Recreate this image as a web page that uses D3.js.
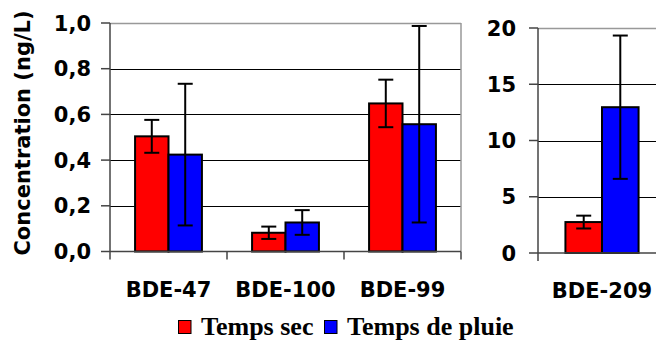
<!DOCTYPE html>
<html>
<head>
<meta charset="utf-8">
<script src="https://cdn.jsdelivr.net/npm/d3@7"></script>
<style>
body{margin:0;background:#fff;}
.lab{font-family:"DejaVu Sans",Verdana,sans-serif;font-weight:bold;}
.leg{font-family:"Liberation Serif","Times New Roman",serif;font-weight:bold;}
</style>
</head>
<body>
<div id="viz_bde" style="width:656px;height:342px;"></div>
<script>
// data
var categories=["BDE-47","BDE-100","BDE-99"];
var sec_vals=[0.504,0.082,0.648];
var sec_err=[0.072,0.027,0.104];
var pluie_vals=[0.424,0.127,0.557];
var pluie_err=[0.31,0.054,0.43];
var left_ticks=[0,0.2,0.4,0.6,0.8,1.0];

var categories2=["BDE-209"];
var sec_vals2=[2.75];
var sec_err2=[0.57];
var pluie_vals2=[12.96];
var pluie_err2=[6.37];
var right_ticks=[0,5,10,15,20];

var series=["Temps sec","Temps de pluie"];
var colors=["#ff0000","#0000ff"];

var width=656,height=342;
var svg=d3.select("#viz_bde").append("svg")
  .attr("width",width)
  .attr("height",height)
  .attr("viewBox","0 0 "+width+" "+height);

var colorScale=d3.scaleOrdinal().domain(series).range(colors);
var fmt=function(d,dec){return d3.format("."+dec+"f")(d).replace(".",",");};

function drawPanel(opt){
  var x0=d3.scaleBand().domain(opt.cats).range([opt.x0,opt.x1]).padding(0);
  var x1=d3.scaleBand().domain(series).range([0,x0.bandwidth()]).paddingInner(0).paddingOuter(0.75);
  var y=d3.scaleLinear().domain([0,opt.max]).range([opt.yb,opt.yt]);
  var g=svg.append("g");

  // gridlines (top one is the gray frame)
  g.selectAll(".grid").data(opt.ticks.filter(function(t){return t>0;}))
    .enter().append("line")
    .attr("x1",opt.x0).attr("x2",opt.x1)
    .attr("y1",function(d){return Math.round(y(d))+0.5;})
    .attr("y2",function(d){return Math.round(y(d))+0.5;})
    .attr("stroke",function(d){return d==opt.max?"#999":"#000";})
    .attr("stroke-width",function(d){return d==opt.max?1.5:1;});
  if(opt.rightBorder){
    g.append("line").attr("x1",opt.x1).attr("x2",opt.x1)
      .attr("y1",y(opt.max)).attr("y2",opt.yb)
      .attr("stroke","#999").attr("stroke-width",1.5);
  }

  // bars
  var rows=opt.cats.map(function(c,i){
    return [{cat:c,s:series[0],v:opt.a[i],e:opt.ae[i]},{cat:c,s:series[1],v:opt.b[i],e:opt.be[i]}];
  });
  var grp=g.selectAll(".cat").data(rows).enter().append("g")
    .attr("transform",function(d){return "translate("+x0(d[0].cat)+",0)";});
  grp.selectAll("rect").data(function(d){return d;}).enter().append("rect")
    .attr("x",function(d){return x1(d.s);})
    .attr("y",function(d){return y(d.v);})
    .attr("width",x1.bandwidth())
    .attr("height",function(d){return y(0)-y(d.v);})
    .attr("fill",function(d){return colorScale(d.s);})
    .attr("stroke","#000")
    .attr("stroke-width",2);

  // error bars
  var eb=grp.selectAll(".err").data(function(d){return d;}).enter().append("g");
  var cx=function(d){return x1(d.s)+x1.bandwidth()/2;};
  eb.append("line")
    .attr("x1",cx).attr("x2",cx)
    .attr("y1",function(d){return y(d.v+d.e);})
    .attr("y2",function(d){return y(d.v-d.e);})
    .attr("stroke","#000").attr("stroke-width",2);
  [1,-1].forEach(function(sg){
    eb.append("line")
      .attr("x1",function(d){return cx(d)-7.5;})
      .attr("x2",function(d){return cx(d)+7.5;})
      .attr("y1",function(d){return y(d.v+sg*d.e);})
      .attr("y2",function(d){return y(d.v+sg*d.e);})
      .attr("stroke","#000").attr("stroke-width",2);
  });

  // axes
  g.append("line").attr("x1",opt.x0).attr("x2",opt.x0)
    .attr("y1",y(opt.max)).attr("y2",opt.yb+8)
    .attr("stroke","#444").attr("stroke-width",1.5);
  g.append("line").attr("x1",opt.x0).attr("x2",opt.x1)
    .attr("y1",opt.yb).attr("y2",opt.yb)
    .attr("stroke","#444").attr("stroke-width",1.5);
  g.selectAll(".ytick").data(opt.ticks).enter().append("line")
    .attr("x1",opt.x0-9).attr("x2",opt.x0)
    .attr("y1",function(d){return y(d);}).attr("y2",function(d){return y(d);})
    .attr("stroke","#444").attr("stroke-width",1.5);
  g.selectAll(".xtick").data(opt.cats).enter().append("line")
    .attr("x1",function(d){return x0(d)+x0.bandwidth();})
    .attr("x2",function(d){return x0(d)+x0.bandwidth();})
    .attr("y1",opt.yb).attr("y2",opt.yb+8)
    .attr("stroke","#444").attr("stroke-width",1.5);

  g.selectAll(".ylab").data(opt.ticks).enter().append("text")
    .attr("class","lab")
    .attr("x",opt.labX)
    .attr("y",function(d){return y(d);})
    .attr("dy","0.36em")
    .attr("font-size",21)
    .style("text-anchor","end")
    .text(function(d){return fmt(d,opt.dec);});

  g.selectAll(".xlab").data(opt.cats).enter().append("text")
    .attr("class","lab")
    .attr("x",function(d){return x0(d)+x0.bandwidth()/2;})
    .attr("y",opt.catY)
    .attr("font-size",21)
    .style("text-anchor","middle")
    .text(function(d){return d;});
}

drawPanel({cats:categories,a:sec_vals,ae:sec_err,b:pluie_vals,be:pluie_err,
  ticks:left_ticks,max:1.0,dec:1,x0:110,x1:461,yb:251.5,yt:23,labX:91,catY:296.5,rightBorder:true});
drawPanel({cats:categories2,a:sec_vals2,ae:sec_err2,b:pluie_vals2,be:pluie_err2,
  ticks:right_ticks,max:20,dec:0,x0:538,x1:666,yb:253,yt:28,labX:516,catY:298,rightBorder:false});

// y title
svg.append("text")
  .attr("class","lab")
  .attr("transform","translate(30,133) rotate(-90)")
  .attr("font-size",21)
  .style("text-anchor","middle")
  .text("Concentration (ng/L)");

// legend
var legX=[178,324];
var leg=svg.selectAll(".legend").data(series).enter().append("g")
  .attr("transform",function(d,i){return "translate("+legX[i]+",320)";});
leg.append("rect")
  .attr("x",0.5).attr("y",0.5).attr("width",12.5).attr("height",13)
  .attr("fill",function(d){return colorScale(d);})
  .attr("stroke","#000").attr("stroke-width",1);
leg.append("text")
  .attr("class","leg")
  .attr("x",23)
  .attr("y",14.5)
  .attr("font-size",26)
  .text(function(d){return d;});
</script>
</body>
</html>
